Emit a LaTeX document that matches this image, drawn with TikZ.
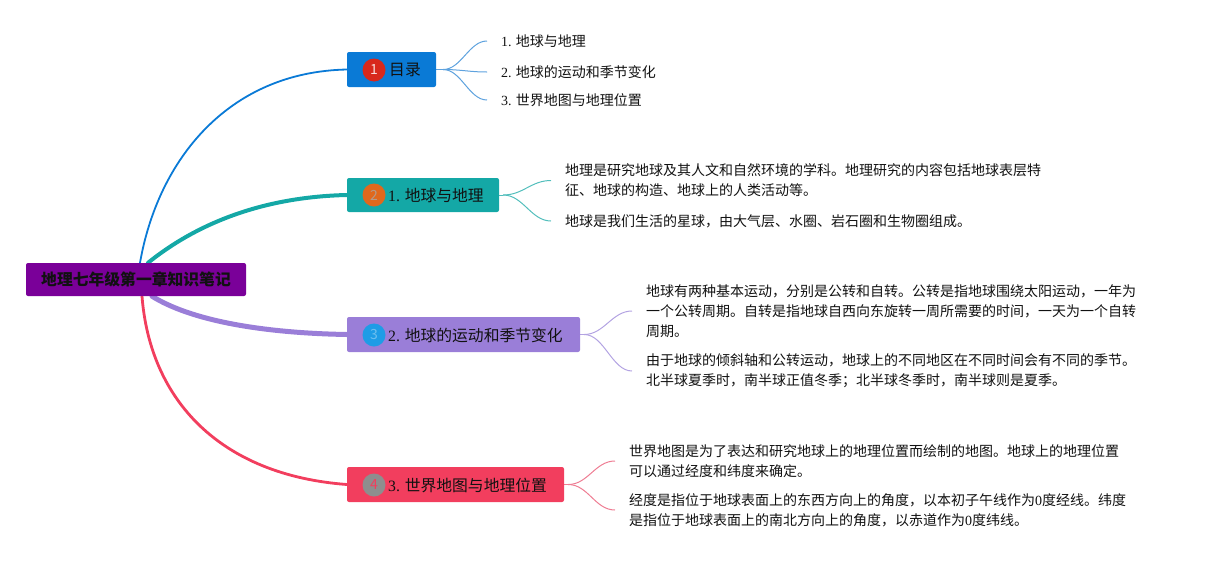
\documentclass[tikz,border=0pt]{standalone}
\usepackage{fontspec}
\setmainfont{Noto Sans CJK SC}
\newfontfamily\latfont{Liberation Serif}
\newcommand\lat[1]{{\latfont #1}}
\usetikzlibrary{calc}
\pgfdeclarelayer{bg}
\pgfsetlayers{bg,main}
\definecolor{rootc}{HTML}{7A0099}
\definecolor{bluec}{HTML}{0A7AD6}
\definecolor{tealc}{HTML}{14A8A6}
\definecolor{lavc}{HTML}{9A7ED8}
\definecolor{pinkc}{HTML}{F23E5E}
\definecolor{c1}{HTML}{D8281C}
\definecolor{c2}{HTML}{E0681C}
\definecolor{c3}{HTML}{1E9CE6}
\definecolor{c4}{HTML}{8E8E8E}
\definecolor{d2}{HTML}{B49A88}
\definecolor{lblue}{HTML}{5EA2DE}
\definecolor{lteal}{HTML}{52BEBC}
\definecolor{llav}{HTML}{B3A3E2}
\definecolor{lpink}{HTML}{EE7D93}
\definecolor{txt}{HTML}{111111}
\begin{document}
\begin{tikzpicture}[x=1pt,y=-1pt,
  box/.style={rectangle,rounded corners=2pt,inner sep=0pt,anchor=center},
  badge/.style={circle,minimum size=23pt,inner sep=0pt,font=\fontsize{14}{14}\selectfont},
  title/.style={anchor=west,inner sep=0pt,text=txt,font=\fontsize{15.8}{18}\selectfont},
  leaf/.style={anchor=west,inner xsep=14pt,inner ysep=0pt,align=left,text=txt,font=\fontsize{14}{20}\selectfont},
  conn/.style={line cap=round}]
\useasboundingbox (0,0) rectangle (1205,560);
% root
\node[box,fill=rootc,minimum width=220pt,minimum height=33pt,text=txt,font=\bfseries\fontsize{15.8}{18}\selectfont] (root) at (136,279.5) {地理七年级第一章知识笔记};
% main boxes
\node[box,fill=bluec,minimum width=89pt,minimum height=35pt] (b1) at (391.5,69.5) {};
\node[box,fill=tealc,minimum width=152pt,minimum height=34pt] (b2) at (423,195) {};
\node[box,fill=lavc,minimum width=233pt,minimum height=35pt] (b3) at (463.5,334.5) {};
\node[box,fill=pinkc,minimum width=217pt,minimum height=35pt] (b4) at (455.5,484.5) {};
\node[badge,fill=c1,text=white!85!c1] (n1) at (374,70) {1};
\node[badge,fill=c2,text=d2] (n2) at (374,195) {2};
\node[badge,fill=c3,text=white!35!c3] (n3) at (374,335) {3};
\node[badge,fill=c4,text=pinkc] (n4) at (374,485) {4};
\node[title] (t1) at (389,70) {目录};
\node[title] (t2) at (388,195) {\lat{1.} 地球与地理};
\node[title] (t3) at (388,335) {\lat{2.} 地球的运动和季节变化};
\node[title] (t4) at (388,485) {\lat{3.} 世界地图与地理位置};
% leaves
\node[leaf] (l11) at (487,41) {\lat{1.} 地球与地理};
\node[leaf] (l12) at (487,72) {\lat{2.} 地球的运动和季节变化};
\node[leaf] (l13) at (487,100) {\lat{3.} 世界地图与地理位置};
\node[leaf] (l21) at (551,180.5) {地理是研究地球及其人文和自然环境的学科。地理研究的内容包括地球表层特\\征、地球的构造、地球上的人类活动等。};
\node[leaf] (l22) at (551,221) {地球是我们生活的星球，由大气层、水圈、岩石圈和生物圈组成。};
\node[leaf] (l31) at (632,311) {地球有两种基本运动，分别是公转和自转。公转是指地球围绕太阳运动，一年为\\一个公转周期。自转是指地球自西向东旋转一周所需要的时间，一天为一个自转\\周期。};
\node[leaf] (l32) at (632,371) {由于地球的倾斜轴和公转运动，地球上的不同地区在不同时间会有不同的季节。\\北半球夏季时，南半球正值冬季；北半球冬季时，南半球则是夏季。};
\node[leaf] (l41) at (615,461) {世界地图是为了表达和研究地球上的地理位置而绘制的地图。地球上的地理位置\\可以通过经度和纬度来确定。};
\node[leaf] (l42) at (615,510) {经度是指位于地球表面上的东西方向上的角度，以本初子午线作为\lat{0}度经线。纬度\\是指位于地球表面上的南北方向上的角度，以赤道作为\lat{0}度纬线。};
\begin{pgfonlayer}{bg}
\draw[conn,bluec,line width=1.8pt] ($(root.north)+(4,0)$) .. controls (158,160) and (228,72) .. (b1.west);
\draw[conn,tealc,line width=4pt] ($(root.north)+(12,0)$) .. controls (195,225) and (260,197) .. (b2.west);
\draw[conn,lavc,line width=5pt] ($(root.south)+(16,0)$) .. controls (190,320) and (260,333) .. (b3.west);
\draw[conn,pinkc,line width=2.8pt] ($(root.south)+(6,0)$) .. controls (150,400) and (220,475) .. (b4.west);
\draw[lblue,line width=1pt] (b1.east) -- ++(7,0) coordinate (k1);
\draw[lblue,line width=1pt] (k1) .. controls +(18,0) and +(-18,0) .. (l11.west);
\draw[lblue,line width=1pt] (k1) .. controls +(18,0) and +(-18,0) .. (l12.west);
\draw[lblue,line width=1pt] (k1) .. controls +(18,0) and +(-18,0) .. (l13.west);
\draw[lteal,line width=1pt] (b2.east) -- ++(4,0) coordinate (k2);
\draw[lteal,line width=1pt] (k2) .. controls +(20,0) and +(-20,0) .. (l21.west);
\draw[lteal,line width=1pt] (k2) .. controls +(20,0) and +(-20,0) .. (l22.west);
\draw[llav,line width=1pt] (b3.east) -- ++(4,0) coordinate (k3);
\draw[llav,line width=1pt] (k3) .. controls +(20,0) and +(-20,0) .. (l31.west);
\draw[llav,line width=1pt] (k3) .. controls +(20,0) and +(-20,0) .. (l32.west);
\draw[lpink,line width=1pt] (b4.east) -- ++(4,0) coordinate (k4);
\draw[lpink,line width=1pt] (k4) .. controls +(20,0) and +(-20,0) .. (l41.west);
\draw[lpink,line width=1pt] (k4) .. controls +(20,0) and +(-20,0) .. (l42.west);
\end{pgfonlayer}
\end{tikzpicture}
\end{document}
